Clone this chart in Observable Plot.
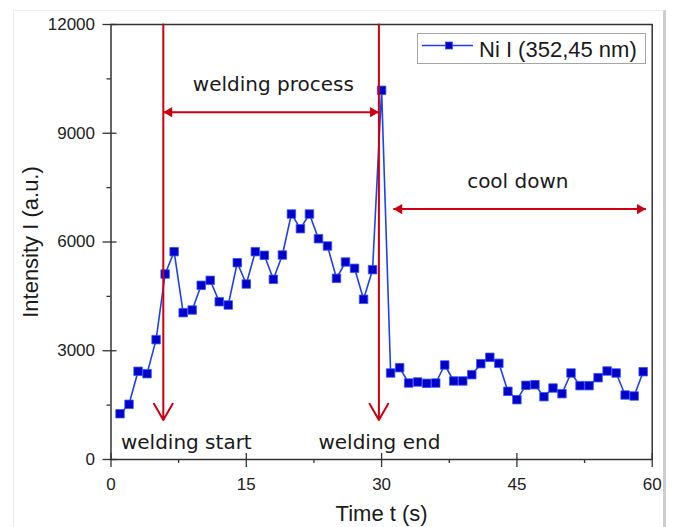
<!DOCTYPE html>
<html><head><meta charset="utf-8">
<script src="https://cdn.jsdelivr.net/npm/d3@7"></script>
<script src="https://cdn.jsdelivr.net/npm/@observablehq/plot@0.6"></script>
<style>
body{margin:0;background:#fff;}
#wrap{position:relative;width:673px;height:527px;overflow:hidden;background:#fff;}
#border{position:absolute;left:13px;top:10px;width:649px;height:540px;border:1px solid #ececec;border-right:3px solid #cdcdcd;}
#chart{position:absolute;left:0;top:0;}
#legend{position:absolute;left:417px;top:33px;width:227px;height:29px;border:1px solid #a6a6a6;background:#fff;}
</style></head>
<body><div id="wrap"><div id="border"></div><div id="chart"></div><div id="legend"></div></div>
<script>
const seriesName = "Ni I (352,45 nm)";
const time = [1,2,3,4,5,6,7,8,9,10,11,12,13,14,15,16,17,18,19,20,21,22,23,24,25,26,27,28,29,30,
  31,32,33,34,35,36,37,38,39,40,41,42,43,44,45,46,47,48,49,50,51,52,53,54,55,56,57,58,59];
const intensity = [1263,1523,2433,2368,3306,5117,5733,4050,4124,4805,
  4943,4353,4262,5429,4841,5733,5633,4971,5641,6772,
  6367,6772,6091,5890,4998,5448,5274,4419,5237,10185,
  2386,2533,2110,2138,2101,2110,2607,2166,2166,2340,
  2643,2819,2653,1881,1650,2046,2064,1733,1972,1816,
  2386,2037,2037,2257,2441,2386,1779,1752,2422];
const xMajor = [0,15,30,45,60];
const xMinor = [7.5,22.5,37.5,52.5];
const yMajor = [0,3000,6000,9000,12000];
const yMinor = [1500,4500,7500,10500];
const xTitle = "Time t (s)";
const yTitle = "Intensity I (a.u.)";
// annotation arrows (data units)
const eventTimes = [5.8, 29.7];
const eventTop = 12000;
const eventTip = 1090;
const spanFrom = [5.8, 31.3];
const spanTo = [29.7, 59.3];
const spanLevel = [9580, 6910];
const noteText = ["welding process","cool down","welding start","welding end"];
const noteT = [18.0, 45.1, 1.1, 23.0];
const noteV = [10160, 7500, 284, 284];
const noteAnchor = ["middle","middle","start","start"];

const data = time.map((t,i)=>({t, v: intensity[i]}));
const spans = spanFrom.map((f,i)=>({from:f, to:spanTo[i], level:spanLevel[i]}));
const notes = noteText.map((s,i)=>({text:s, t:noteT[i], v:noteV[i], anchor:noteAnchor[i]}));

const red = "#cc0010";
const axisColor = "#333";
const noteFont = '"DejaVu Sans", Verdana, sans-serif';

const chart = Plot.plot({
  width: 673, height: 527,
  marginLeft: 110.5, marginRight: 21.3, marginTop: 24, marginBottom: 68,
  x: {domain: [0,60]},
  y: {domain: [0,12000]},
  style: {fontFamily: '"Liberation Sans", Arial, sans-serif', fontSize: "17px", color: "#222", background: "transparent", overflow: "visible"},
  marks: [
    Plot.axisY(yMinor, {tickSize: 4, tickFormat: () => "", label: null, stroke: axisColor, strokeWidth: 1.3}),
    Plot.axisY(yMajor, {tickSize: 14, dx: 6, tickPadding: 8, tickFormat: d3.format("d"), label: null, stroke: axisColor, strokeWidth: 1.3, fontSize: 17, fill: "#222"}),
    Plot.axisX(xMinor, {tickSize: 4, tickFormat: () => "", label: null, stroke: axisColor, strokeWidth: 1.3}),
    Plot.axisX(xMajor, {tickSize: 14, dy: -6, tickPadding: 10, tickFormat: d3.format("d"), label: null, stroke: axisColor, strokeWidth: 1.3, fontSize: 17, fill: "#222"}),
    Plot.frame({stroke: axisColor, strokeWidth: 1.5}),
    Plot.text([xTitle], {frameAnchor: "bottom", dy: 61, lineAnchor: "bottom", textAnchor: "middle", fontSize: 22, fill: "#1a1a1a"}),
    Plot.text([yTitle], {frameAnchor: "left", rotate: -90, dx: -80, textAnchor: "middle", lineAnchor: "middle", fontSize: 22, fill: "#1a1a1a"}),
    Plot.line(data, {x: "t", y: "v", stroke: "#1f3ff0", strokeWidth: 1.6}),
    Plot.dot(data, {x: "t", y: "v", symbol: "square", r: 4.8, fill: "#0000c8", stroke: "#3355ff", strokeWidth: 0.8}),
    Plot.arrow(eventTimes, {x: d => d, y1: () => eventTop, y2: () => eventTip, stroke: red, strokeWidth: 2, headLength: 14}),
    Plot.link(spans, {x1: "from", x2: "to", y1: "level", y2: "level", stroke: red, strokeWidth: 2}),
    Plot.dot(spans, {x: "from", y: "level", symbol: "triangle", r: 3.8, fill: red, rotate: -90, dx: 5.9}),
    Plot.dot(spans, {x: "to", y: "level", symbol: "triangle", r: 3.8, fill: red, rotate: 90, dx: -5.9}),
    Plot.text(notes.filter(d => d.anchor === "middle"), {x: "t", y: "v", text: "text", textAnchor: "middle", lineAnchor: "bottom", fontSize: 20, fontFamily: noteFont, fill: "#1a1a1a"}),
    Plot.text(notes.filter(d => d.anchor === "start"), {x: "t", y: "v", text: "text", textAnchor: "start", lineAnchor: "bottom", fontSize: 20, fontFamily: noteFont, fill: "#1a1a1a"})
  ]
});
document.getElementById("chart").appendChild(chart);

// legend swatch
const lg = d3.select("#legend").append("svg").attr("width", 227).attr("height", 29);
lg.append("line").attr("x1", 4).attr("x2", 55).attr("y1", 11.5).attr("y2", 11.5).attr("stroke", "#1f3ff0").attr("stroke-width", 1.6);
lg.append("rect").attr("x", 27.5).attr("y", 8).attr("width", 7).attr("height", 7).attr("fill", "#0000c8").attr("stroke", "#3355ff").attr("stroke-width", 0.8);
lg.append("text").attr("x", 61).attr("y", 23).attr("font-family", '"Liberation Sans", Arial, sans-serif').attr("font-size", 22).attr("fill", "#1a1a1a").text(seriesName);
</script>
</body></html>
